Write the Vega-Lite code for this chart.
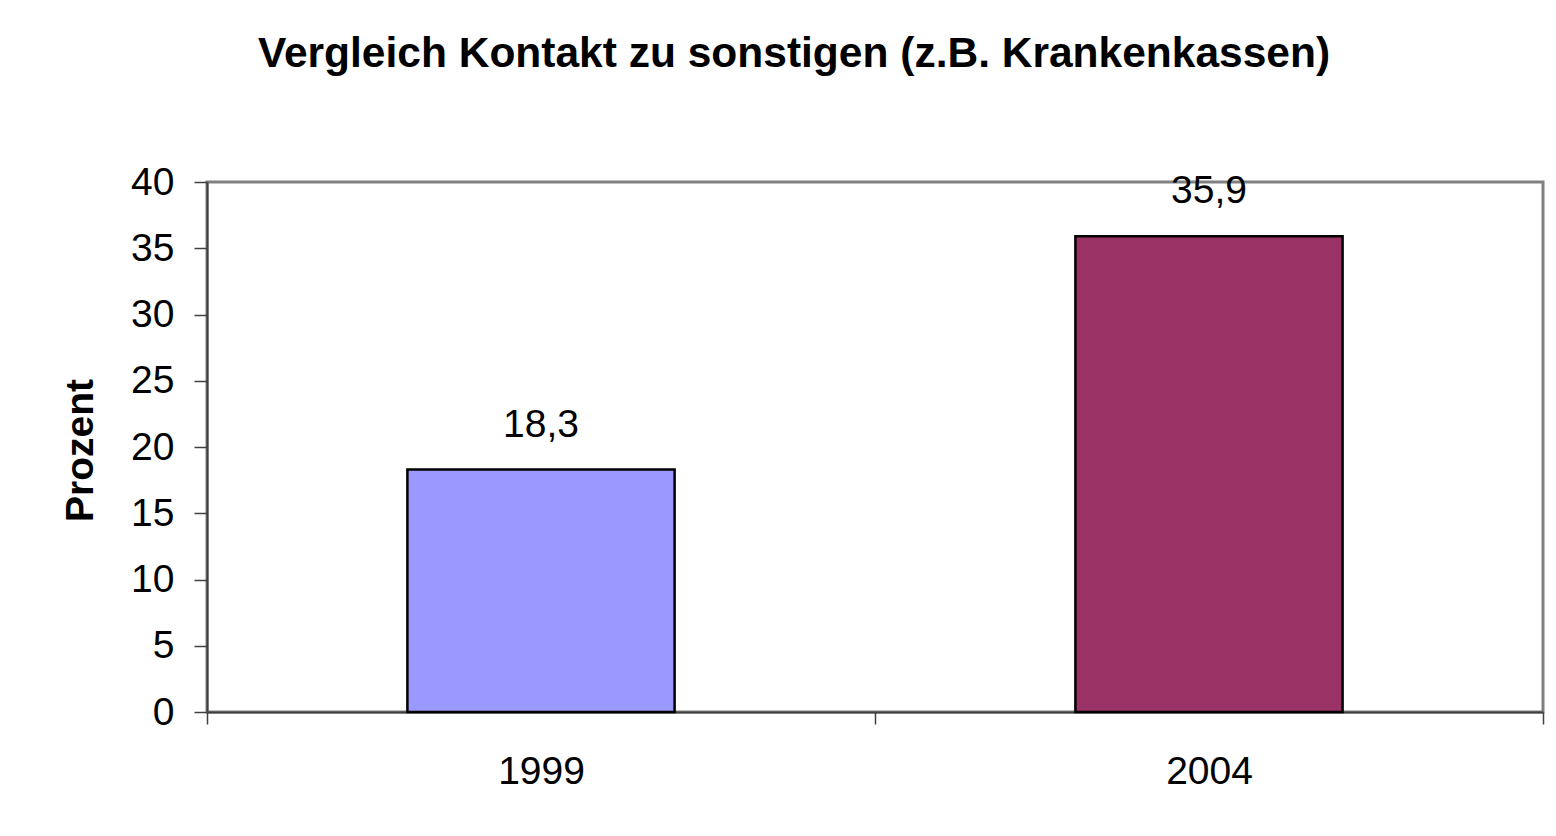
{
  "$schema": "https://vega.github.io/schema/vega-lite/v6.json",
  "width": 1336,
  "height": 530,
  "autosize": {"type": "none"},
  "padding": {"left": 207, "top": 182, "right": 13, "bottom": 124},
  "background": "white",
  "config": {
    "locale": {"number": {"decimal": ",", "thousands": ".", "grouping": [3], "currency": ["", " €"]}},
    "font": "Liberation Sans",
    "view": {"stroke": "#808080", "strokeWidth": 3}
  },
  "title": {
    "text": "Vergleich Kontakt zu sonstigen (z.B. Krankenkassen)",
    "font": "Liberation Sans",
    "fontSize": 42.5,
    "fontWeight": "bold",
    "color": "black",
    "anchor": "middle",
    "frame": "group",
    "baseline": "alphabetic",
    "offset": 54,
    "dx": -81
  },
  "data": {
    "values": [
      {"year": "1999", "value": 18.3},
      {"year": "2004", "value": 35.9}
    ]
  },
  "encoding": {
    "x": {
      "field": "year",
      "type": "nominal",
      "sort": null,
      "scale": {"paddingInner": 0, "paddingOuter": 0},
      "axis": {
        "title": null,
        "labelAngle": 0,
        "labelFontSize": 39,
        "labelColor": "black",
        "labelBaseline": "alphabetic",
        "labelPadding": 59,
        "tickBand": "extent",
        "tickSize": 12,
        "tickColor": "#404040",
        "tickWidth": 1.5,
        "domainColor": "#404040",
        "domainWidth": 2
      }
    },
    "y": {
      "field": "value",
      "type": "quantitative",
      "scale": {"domain": [0, 40], "nice": false},
      "axis": {
        "title": "Prozent",
        "titleFontSize": 39,
        "titleFontWeight": "bold",
        "titleColor": "black",
        "titleAngle": -90,
        "titleX": -127,
        "titleY": 268,
        "titleAlign": "center",
        "titleBaseline": "middle",
        "values": [0, 5, 10, 15, 20, 25, 30, 35, 40],
        "grid": false,
        "labelFontSize": 39,
        "labelColor": "black",
        "labelPadding": 20,
        "tickSize": 13,
        "tickColor": "#404040",
        "tickWidth": 1.5,
        "domainColor": "#404040",
        "domainWidth": 2
      }
    }
  },
  "layer": [
    {
      "mark": {"type": "bar", "width": {"band": 0.4}, "stroke": "black", "strokeWidth": 2.5},
      "encoding": {
        "color": {
          "field": "year",
          "type": "nominal",
          "scale": {"domain": ["1999", "2004"], "range": ["#9999FF", "#993366"]},
          "legend": null
        }
      }
    },
    {
      "mark": {"type": "text", "baseline": "alphabetic", "dy": -33, "fontSize": 39, "color": "black"},
      "encoding": {
        "text": {"field": "value", "type": "quantitative", "format": ".1f"}
      }
    }
  ]
}
